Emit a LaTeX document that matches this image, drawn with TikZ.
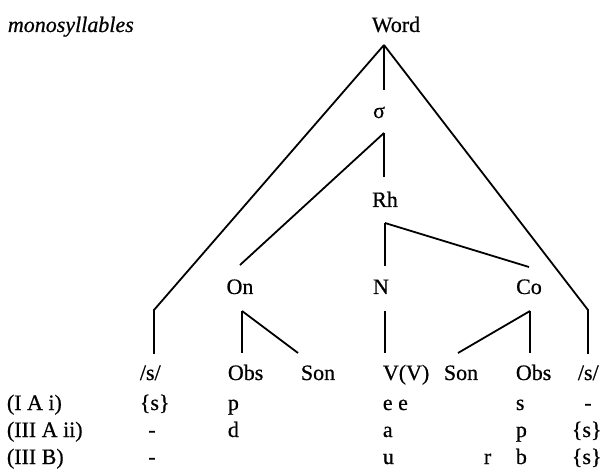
\documentclass[tikz,border=0pt]{standalone}
\usepackage{fontspec}
\setmainfont{Liberation Serif}[FakeBold=0.6]
\begin{document}
\begin{tikzpicture}[x=1pt,y=-1pt,line width=1.8pt,
  lab/.style={inner sep=0pt,anchor=base,font=\fontsize{22}{26}\selectfont},
  lw/.style={inner sep=0pt,anchor=base west,font=\fontsize{22}{26}\selectfont},
  branch/.style={line width=1.8pt}]
\useasboundingbox (0,0) rectangle (603,473);
% top labels
\node[lw,font=\fontsize{22}{26}\selectfont\itshape] (mono) at (7,32) {monosyllables};
\node[lab] (word) at (396,32) {Word};
\node[lab] (sigma) at (379,118) {σ};
\node[lab] (rh) at (385,207) {Rh};
\node[lab] (on) at (240,294) {On};
\node[lab] (n) at (381,294) {N};
\node[lab] (co) at (529,294) {Co};
% branch points
\coordinate (apex) at (384,45);
\coordinate (sigB) at (384,90);
\coordinate (sigT) at (384,133);
\coordinate (rhB) at (384,177);
\coordinate (onB) at (240,265);
\coordinate (rhT) at (385,223);
\coordinate (nB) at (385,266);
\coordinate (coB) at (529,267);
\coordinate (leftK) at (154,310);
\coordinate (leftE) at (154,354);
\coordinate (rightK) at (588,310);
\coordinate (rightE) at (588,354);
\coordinate (onT) at (242,311);
\coordinate (onE1) at (242,353);
\coordinate (onE2) at (298,353);
\coordinate (nT) at (385,311);
\coordinate (nE) at (385,353);
\coordinate (coT) at (530,311);
\coordinate (coE1) at (530,353);
\coordinate (coE2) at (458,353);
% connectors
\draw[branch] (apex) -- (sigB);
\draw[branch] (apex) -- (leftK) -- (leftE);
\draw[branch] (apex) -- (rightK) -- (rightE);
\draw[branch] (sigT) -- (rhB);
\draw[branch] (sigT) -- (onB);
\draw[branch] (rhT) -- (nB);
\draw[branch] (rhT) -- (coB);
\draw[branch] (onT) -- (onE1);
\draw[branch] (onT) -- (onE2);
\draw[branch] (nT) -- (nE);
\draw[branch] (coT) -- (coE1);
\draw[branch] (coT) -- (coE2);
% header row
\node[lw] (h1) at (139,380) {/s/};
\node[lw] (h2) at (227,380) {Obs};
\node[lw] (h3) at (300,380) {Son};
\node[lw] (h4) at (382,380) {V(V)};
\node[lw] (h5) at (443,380) {Son};
\node[lw] (h6) at (515,380) {Obs};
\node[lw] (h7) at (577,380) {/s/};
% row 1
\node[lw] (r1) at (6,410) {(I A i)};
\node[lw] (r1a) at (139,410) {\{s\}};
\node[lw] (r1b) at (227,410) {p};
\node[lw] (r1c) at (382,410) {e e};
\node[lw] (r1d) at (515,410) {s};
\node[lab] (r1e) at (588,410) {-};
% row 2
\node[lw] (r2) at (6,437) {(III A ii)};
\node[lab] (r2a) at (152,437) {-};
\node[lw] (r2b) at (227,437) {d};
\node[lw] (r2c) at (382,437) {a};
\node[lw] (r2d) at (515,437) {p};
\node[lw] (r2e) at (571,437) {\{s\}};
% row 3
\node[lw] (r3) at (6,464) {(III B)};
\node[lab] (r3a) at (152,464) {-};
\node[lw] (r3c) at (382,464) {u};
\node[lw] (r3d) at (483,464) {r};
\node[lw] (r3e) at (515,464) {b};
\node[lw] (r3f) at (571,464) {\{s\}};
\end{tikzpicture}
\end{document}
